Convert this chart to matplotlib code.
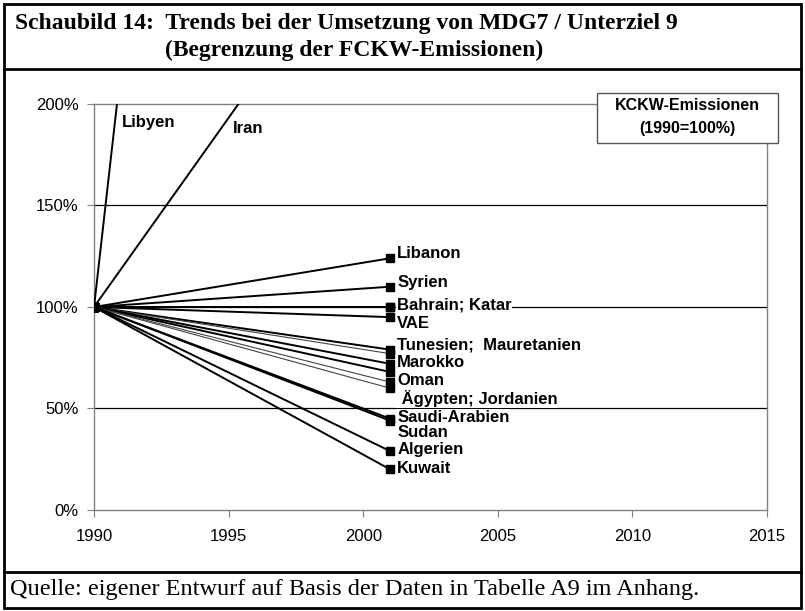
import matplotlib
matplotlib.use("Agg")
import matplotlib.pyplot as plt
from matplotlib.patches import Rectangle
from matplotlib.lines import Line2D

# KCKW emissions, 1990 = 100 %, values for 1990 and 2001
years = [1990, 2001]
countries = ["Libyen", "Iran", "Libanon", "Syrien", "Bahrain", "Katar", "VAE",
             "Tunesien", "Mauretanien", "Marokko", "Oman", "Ägypten", "Jordanien",
             "Saudi-Arabien", "Sudan", "Algerien", "Kuwait"]
values_2001 = [1390, 305, 124, 110, 100, 100, 95,
               79, 77, 72, 68, 63, 60,
               45, 44, 29, 20]
thin = ["Mauretanien", "Ägypten", "Jordanien"]

# text labels next to the end points (label, y in %)
end_labels = ["Libanon", "Syrien", "Bahrain; Katar", "VAE", "Tunesien;  Mauretanien",
              "Marokko", "Oman", " Ägypten; Jordanien", "Saudi-Arabien", "Sudan",
              "Algerien", "Kuwait"]
end_label_y = [126.5, 112, 101, 92, 81.5, 72.5, 64, 55, 45.5, 38, 30, 20.5]

xticks = [1990, 1995, 2000, 2005, 2010, 2015]
yticks = [0, 50, 100, 150, 200]


def main():
    plt.rcParams["font.family"] = ["Liberation Sans", "DejaVu Sans"]
    fig = plt.figure(figsize=(8.05, 6.11), dpi=100)

    ax = fig.add_axes([0.1168, 0.1653, 0.836, 0.6645])
    ax.set_xlim(1990, 2015)
    ax.set_ylim(0, 200)

    for y in [50, 100, 150]:
        ax.axhline(y, color="black", lw=0.9, zorder=1)

    for name, v in zip(countries, values_2001):
        if name in thin:
            lw, col = 0.8, "#444444"
        else:
            lw, col = 1.4, "black"
        ax.plot(years, [100, v], color=col, lw=lw, marker="s", markersize=5.5,
                markerfacecolor="black", markeredgecolor="black", zorder=3)

    for lab, y in zip(end_labels, end_label_y):
        ax.annotate(lab, xy=(2001, y), xytext=(5, 0), textcoords="offset points",
                    ha="left", va="center", fontsize=12, fontweight="bold",
                    bbox=dict(facecolor="white", edgecolor="none", pad=0.5), zorder=4)

    ax.text(1991.05, 191, "Libyen", ha="left", va="center", fontsize=12, fontweight="bold")
    ax.text(1995.15, 188, "Iran", ha="left", va="center", fontsize=12, fontweight="bold")

    ax.set_xticks(xticks)
    ax.set_yticks(yticks)
    ax.set_yticklabels([f"{t}%" for t in yticks])
    ax.tick_params(axis="both", direction="out", length=5, color="#808080",
                   labelsize=12, pad=6)
    ax.tick_params(axis="x", pad=9)
    for s in ax.spines.values():
        s.set_color("#808080")
        s.set_linewidth(1.0)

    # legend-like box
    fig.patches.append(Rectangle((597 / 805, 1 - 143 / 611), 181 / 805, 50 / 611,
                                 transform=fig.transFigure, facecolor="white",
                                 edgecolor="#555555", lw=1.0, zorder=5))
    fig.text(687 / 805, 1 - 105 / 611, "KCKW-Emissionen", ha="center", va="center",
             fontsize=11.5, fontweight="bold", zorder=6)
    fig.text(687 / 805, 1 - 128 / 611, "(1990=100%)", ha="center", va="center",
             fontsize=11.5, fontweight="bold", zorder=6)

    # frame of the figure box
    fig.patches.append(Rectangle((4 / 805, 3 / 611), 797 / 805, 604 / 611,
                                 transform=fig.transFigure, facecolor="none",
                                 edgecolor="black", lw=2.0))
    for yp in [69, 572]:
        fig.lines.append(Line2D([4 / 805, 801 / 805], [1 - yp / 611, 1 - yp / 611],
                                transform=fig.transFigure, color="black", lw=2.0))

    serif = ["Liberation Serif", "DejaVu Serif"]
    fig.text(15 / 805, 1 - 24 / 611,
             "Schaubild 14:  Trends bei der Umsetzung von MDG7 / Unterziel 9",
             ha="left", va="center", fontsize=17, fontweight="bold", family=serif)
    fig.text(165 / 805, 1 - 50 / 611, "(Begrenzung der FCKW-Emissionen)",
             ha="left", va="center", fontsize=17, fontweight="bold", family=serif)
    fig.text(10 / 805, 1 - 590 / 611,
             "Quelle: eigener Entwurf auf Basis der Daten in Tabelle A9 im Anhang.",
             ha="left", va="center", fontsize=17.5, family=serif)

    fig.savefig("out.png", dpi=100)
    plt.close(fig)


if __name__ == "__main__":
    main()
